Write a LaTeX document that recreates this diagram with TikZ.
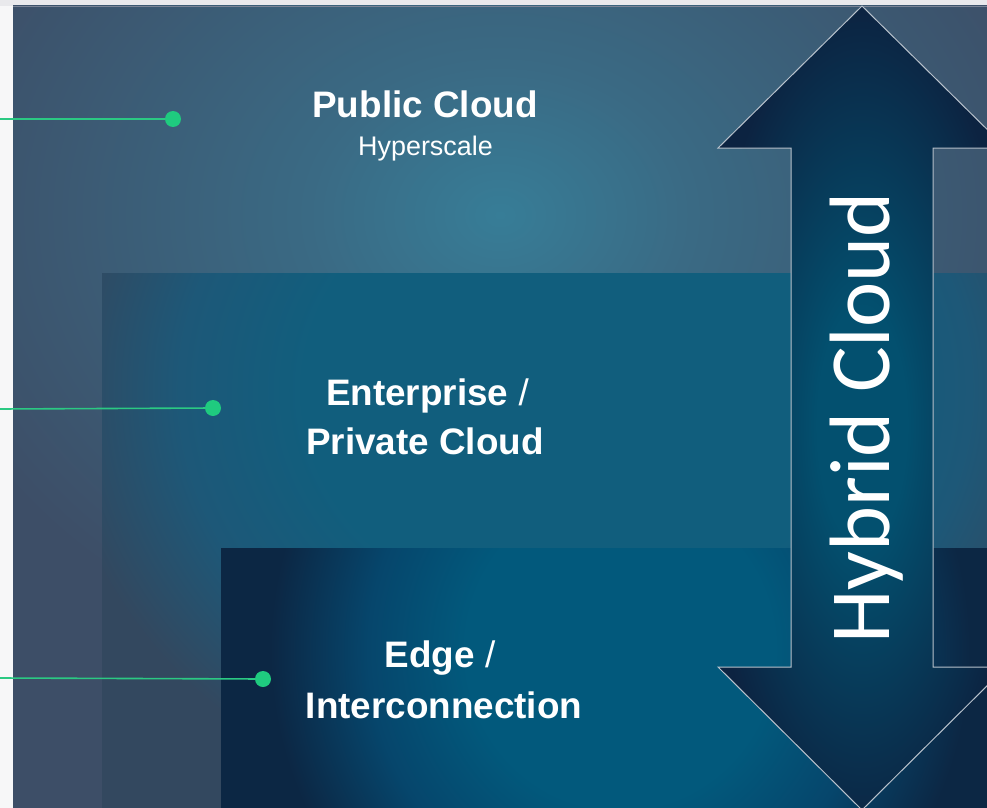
\documentclass[tikz,border=0pt]{standalone}
\usepackage{fontspec}
\setmainfont{Liberation Sans}
\newfontfamily\hybfont{Carlito}
\definecolor{bgwhite}{HTML}{F7F7F8}
\definecolor{bgtop}{HTML}{E9E9EC}
\definecolor{topedge}{HTML}{7A8496}
\definecolor{lOneOut}{HTML}{3D4E67}
\definecolor{lOneMid}{HTML}{3A6A84}
\definecolor{lOneIn}{HTML}{377D97}
\definecolor{lTwoOut}{HTML}{33485F}
\definecolor{lTwoMid}{HTML}{1D5878}
\definecolor{lTwoIn}{HTML}{115E7D}
\definecolor{lThreeOut}{HTML}{0C2744}
\definecolor{lThreeMid}{HTML}{06466C}
\definecolor{lThreeIn}{HTML}{02597C}
\definecolor{arrNavy}{HTML}{0C2341}
\definecolor{arrIn}{HTML}{03506F}
\definecolor{arrEdge}{HTML}{B8C2CC}
\definecolor{gline}{HTML}{2BC983}
\definecolor{gdot}{HTML}{1FCB7F}
\pgfdeclareradialshading{glowone}{\pgfpoint{0bp}{0bp}}{color(0bp)=(lOneIn); color(8bp)=(lOneMid); color(25bp)=(lOneOut); color(50bp)=(lOneOut)}
\pgfdeclareradialshading{glowtwo}{\pgfpoint{0bp}{0bp}}{color(0bp)=(lTwoIn); color(13bp)=(lTwoIn); color(19bp)=(lTwoMid); color(25bp)=(lTwoOut); color(50bp)=(lTwoOut)}
\pgfdeclareradialshading{glowthree}{\pgfpoint{0bp}{0bp}}{color(0bp)=(lThreeIn); color(11bp)=(lThreeIn); color(18bp)=(lThreeMid); color(25bp)=(lThreeOut); color(50bp)=(lThreeOut)}
\pgfdeclareradialshading{glowarrow}{\pgfpoint{0bp}{0bp}}{color(0bp)=(arrIn); color(7bp)=(arrIn); color(25bp)=(arrNavy); color(50bp)=(arrNavy)}
\newcommand\hybarrowpath{(862,6) -- (1006,148) -- (933,148) -- (933,667) -- (1006,667) -- (862,810) -- (718,667) -- (791,667) -- (791,148) -- (718,148) -- cycle}
\newcommand\thinslash{{\mdseries /}}
\tikzset{
  labelbig/.style={text=white, inner sep=0pt, anchor=base, font=\bfseries\fontsize{37}{44}\selectfont},
  labelsmall/.style={text=white, inner sep=0pt, anchor=base, font=\fontsize{27}{32}\selectfont},
  hyblabel/.style={text=white, inner sep=0pt, anchor=base, rotate=90, font=\hybfont\fontsize{86}{100}\selectfont},
  gdotstyle/.style={circle, fill=gdot, draw=none, minimum size=16bp, inner sep=0pt},
  glinestyle/.style={draw=gline, line width=1.6bp},
  arrowedge/.style={draw=arrEdge, line width=1bp, line join=miter}
}
\begin{document}
\begin{tikzpicture}[x=1bp,y=-1bp]
\useasboundingbox (0,0) rectangle (987,808);
% page background
\fill[bgwhite] (0,0) rectangle (987,808);
\fill[bgtop] (0,0) rectangle (987,6);
% layer 1: public cloud
\begin{scope}
  \clip (13,6) rectangle (987,808);
  \fill[lOneOut] (13,6) rectangle (987,808);
  \shade[shading=glowone] (500,215) ellipse [x radius=600, y radius=470];
\end{scope}
\draw[topedge, line width=0.8bp] (13,6.4) -- (987,6.4);
% layer 2: enterprise
\begin{scope}
  \clip (102,273) rectangle (987,808);
  \fill[lTwoOut] (102,273) rectangle (987,808);
  \shade[shading=glowtwo] (575,390) ellipse [x radius=520, y radius=440];
\end{scope}
% layer 3: edge
\begin{scope}
  \clip (221,548) rectangle (987,808);
  \fill[lThreeOut] (221,548) rectangle (987,808);
  \shade[shading=glowthree] (620,650) ellipse [x radius=350, y radius=360];
\end{scope}
% connectors and dots
\node[gdotstyle] (d1) at (173,119) {};
\node[gdotstyle] (d2) at (213,408) {};
\node[gdotstyle] (d3) at (263,679) {};
\coordinate (s1) at (0,119);
\coordinate (s2) at (0,409);
\coordinate (s3) at (0,678);
\draw[glinestyle] (s1) -- (d1);
\draw[glinestyle] (s2) -- (d2);
\draw[glinestyle] (s3) -- (d3);
% labels
\node[labelbig] (pc) at (425,117) {Public Cloud};
\node[labelsmall] (hs) at (425.5,155) {Hyperscale};
\node[labelbig] (en) at (427.5,405) {Enterprise \thinslash};
\node[labelbig] (pv) at (425,454) {Private Cloud};
\node[labelbig] (ed) at (440,667) {Edge \thinslash};
\node[labelbig] (ic) at (444,718) {Interconnection};
% hybrid arrow
\fill[arrNavy] \hybarrowpath;
\begin{scope}
  \clip \hybarrowpath;
  \shade[shading=glowarrow] (862,425) ellipse [x radius=160, y radius=420];
\end{scope}
\draw[arrowedge] \hybarrowpath;
\node[hyblabel] (hy) at (889,418) {Hybrid Cloud};
\end{tikzpicture}
\end{document}
